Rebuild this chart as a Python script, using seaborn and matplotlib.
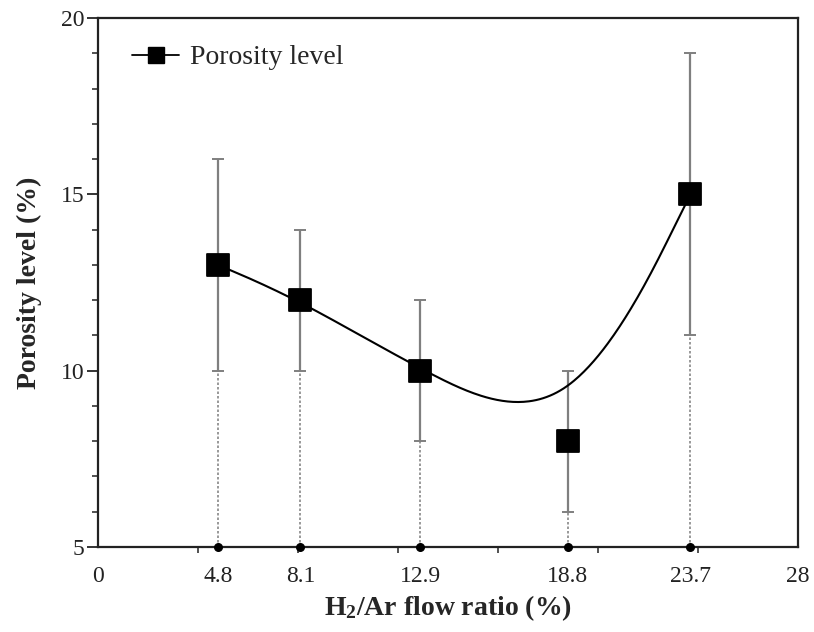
import numpy as np
import pandas as pd
import matplotlib
matplotlib.use("Agg")
import matplotlib.pyplot as plt
import seaborn as sns
from matplotlib.lines import Line2D
from matplotlib.ticker import FixedLocator, MultipleLocator

# ---- data ----
flow_ratio = [4.8, 8.1, 12.9, 18.8, 23.7]
porosity = [13, 12, 10, 8, 15]
err_low = [10, 10, 8, 6, 11]
err_high = [16, 14, 12, 10, 19]
x_tick_values = [0, 4.8, 8.1, 12.9, 18.8, 23.7, 28]
x_tick_labels = ["0", "4.8", "8.1", "12.9", "18.8", "23.7", "28"]
y_tick_values = [5, 10, 15, 20]
series_name = "Porosity level"


def uniform_bspline(xs, ys, n_per_seg=80):
    """Uniform cubic B-spline with end control points tripled (passes through ends)."""
    ctrl = np.column_stack([xs, ys]).astype(float)
    ctrl = np.vstack([ctrl[:1], ctrl[:1], ctrl, ctrl[-1:], ctrl[-1:]])
    M = np.array([[-1, 3, -3, 1],
                  [3, -6, 3, 0],
                  [-3, 0, 3, 0],
                  [1, 4, 1, 0]]) / 6.0
    t = np.linspace(0, 1, n_per_seg)
    T = np.column_stack([t ** 3, t ** 2, t, np.ones_like(t)])
    out = []
    for i in range(len(ctrl) - 3):
        out.append(T @ M @ ctrl[i:i + 4])
    pts = np.vstack(out)
    return pts[:, 0], pts[:, 1]


df = pd.DataFrame({"flow": flow_ratio, "por": porosity})
cx, cy = uniform_bspline(flow_ratio, porosity)
curve = pd.DataFrame({"flow": cx, "por": cy})

sns.set_theme(style="ticks")
plt.rcParams["font.family"] = ["Liberation Serif", "DejaVu Serif"]
plt.rcParams["mathtext.default"] = "regular"

fig = plt.figure(figsize=(8.14, 6.32), dpi=100)
ax = fig.add_axes([0.1204, 0.1345, 0.8599, 0.837])

ymin = 5
# dotted drop lines
for x, lo in zip(flow_ratio, err_low):
    ax.plot([x, x], [ymin, lo], color="#888888", lw=1.2, ls=(0, (1.5, 1.2)), zorder=1)
ax.scatter(flow_ratio, [ymin] * len(flow_ratio), s=30, color="black", zorder=6, clip_on=False)

# error bars
yerr = [np.array(porosity) - np.array(err_low), np.array(err_high) - np.array(porosity)]
ax.errorbar(flow_ratio, porosity, yerr=yerr, fmt="none", ecolor="#7f7f7f",
            elinewidth=1.6, capsize=4.5, capthick=1.4, zorder=2)

sns.lineplot(data=curve, x="flow", y="por", ax=ax, color="black", lw=1.5,
             sort=False, estimator=None, zorder=3)
sns.scatterplot(data=df, x="flow", y="por", ax=ax, marker="s", s=260,
                color="black", edgecolor="black", zorder=5)

ax.set_xlim(0, 28)
ax.set_ylim(5, 20)
ax.xaxis.set_major_locator(FixedLocator(x_tick_values))
ax.set_xticklabels(x_tick_labels)
ax.xaxis.set_minor_locator(FixedLocator([4, 8, 12, 16, 20, 24]))
ax.yaxis.set_major_locator(FixedLocator(y_tick_values))
ax.yaxis.set_minor_locator(MultipleLocator(1))

ax.tick_params(axis="x", which="major", length=0, labelsize=17, pad=14, colors="#222222")
ax.tick_params(axis="x", which="minor", length=4, width=1.2, direction="out", color="#333333")
ax.tick_params(axis="y", which="major", length=8, width=1.4, direction="out", labelsize=17,
               pad=2, color="#333333", labelcolor="#222222")
ax.tick_params(axis="y", which="minor", length=4, width=1.2, direction="out", color="#333333")

for s in ax.spines.values():
    s.set_visible(True)
    s.set_linewidth(1.6)
    s.set_color("#222222")

ax.set_xlabel("H$_2$/Ar flow ratio (%)", fontsize=20, fontweight="bold", labelpad=4)
ax.set_ylabel("Porosity level (%)", fontsize=20, fontweight="bold", labelpad=13)

handle = Line2D([], [], color="black", lw=1.3, marker="s", markersize=11.5)
ax.legend([handle], [series_name], loc="upper left", bbox_to_anchor=(0.0486, 0.949),
          frameon=False, fontsize=20, handlelength=1.7, handletextpad=0.4,
          borderpad=0, borderaxespad=0)

fig.savefig("out.png", dpi=100)
